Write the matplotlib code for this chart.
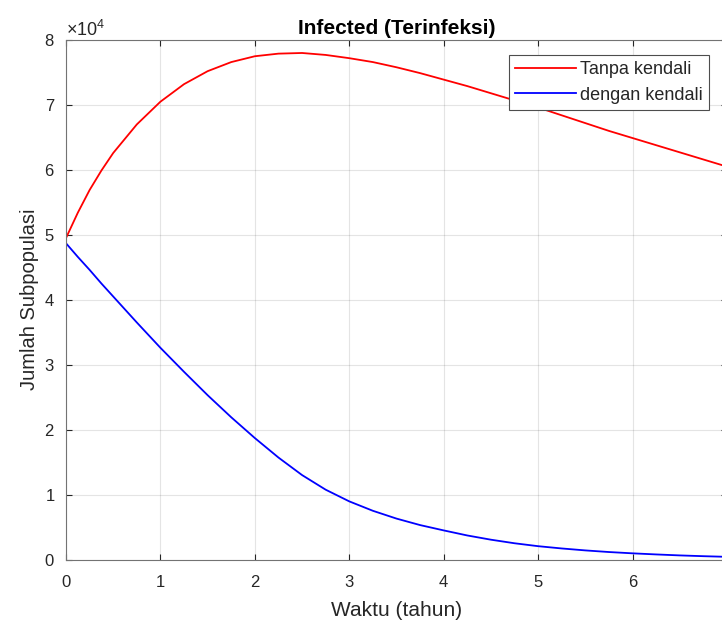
import matplotlib
matplotlib.use("Agg")
from matplotlib import pyplot as plt
from matplotlib.ticker import ScalarFormatter

plt.rcParams['font.family'] = ['Liberation Sans', 'DejaVu Sans']
plt.rcParams['mathtext.fontset'] = 'custom'
plt.rcParams['mathtext.rm'] = 'Liberation Sans'

# waktu (tahun) and infected counts
waktu = [0, 0.125, 0.25, 0.375, 0.5, 0.75, 1, 1.25, 1.5, 1.75, 2, 2.25, 2.5, 2.75, 3,
         3.25, 3.5, 3.75, 4, 4.25, 4.5, 4.75, 5, 5.25, 5.5, 5.75, 6, 6.25, 6.5, 6.75, 7]
tanpa_kendali = [49500, 53400, 56900, 59900, 62600, 67000, 70500, 73200, 75200, 76600,
                 77500, 77900, 78000, 77700, 77200, 76600, 75800, 74900, 73900, 72900,
                 71800, 70700, 69600, 68400, 67200, 66000, 64900, 63800, 62700, 61600,
                 60500]
dengan_kendali = [48700, 46600, 44600, 42500, 40500, 36500, 32600, 28900, 25300, 21900,
                  18700, 15700, 13000, 10750, 8950, 7500, 6300, 5300, 4480, 3700,
                  3050, 2500, 2050, 1700, 1400, 1150, 950, 780, 630, 510, 410]

axcol = (0.15, 0.15, 0.15)

fig = plt.figure(figsize=(7.22, 6.22), dpi=100)
ax = fig.add_axes([66/722, 1-559.5/622, (727-66)/722, (559.5-40)/622])

ax.plot(waktu, tanpa_kendali, color=(1, 0, 0), lw=1.3, label="Tanpa kendali")
ax.plot(waktu, dengan_kendali, color=(0, 0, 1), lw=1.3, label="dengan kendali")

ax.set_xlim(0, 7)
ax.set_ylim(0, 80000)
ax.set_xticks(range(0, 8))
ax.set_yticks(range(0, 80001, 10000))

fmt = ScalarFormatter(useMathText=True)
fmt.set_powerlimits((0, 0))
ax.yaxis.set_major_formatter(fmt)
ax.yaxis.get_offset_text().set_fontsize(13)
ax.yaxis.get_offset_text().set_color(axcol)

ax.grid(True, color=(0.15, 0.15, 0.15), alpha=0.12, lw=0.8)
ax.tick_params(direction="in", top=True, right=True, labelsize=12,
               colors=axcol, length=4)
ax.tick_params(axis="x", pad=11)
ax.tick_params(axis="y", pad=8)
for s in ax.spines.values():
    s.set_color((0.45, 0.45, 0.45))
    s.set_linewidth(0.8)

ax.set_title("Infected (Terinfeksi)", fontsize=15, fontweight="bold", pad=4)
ax.set_xlabel("Waktu (tahun)", fontsize=15, color=axcol, labelpad=8)
ax.set_ylabel("Jumlah Subpopulasi", fontsize=14.5, color=axcol, labelpad=4)

leg = ax.legend(loc="upper right", bbox_to_anchor=(0.9728, 0.971), borderaxespad=0,
                fancybox=False, framealpha=1, edgecolor=(0.3, 0.3, 0.3),
                fontsize=13, handlelength=3.4, handletextpad=0.2, borderpad=0.35,
                labelspacing=0.45)
leg.get_frame().set_linewidth(0.8)
for t in leg.get_texts():
    t.set_color(axcol)

fig.savefig("out.png", dpi=100)
